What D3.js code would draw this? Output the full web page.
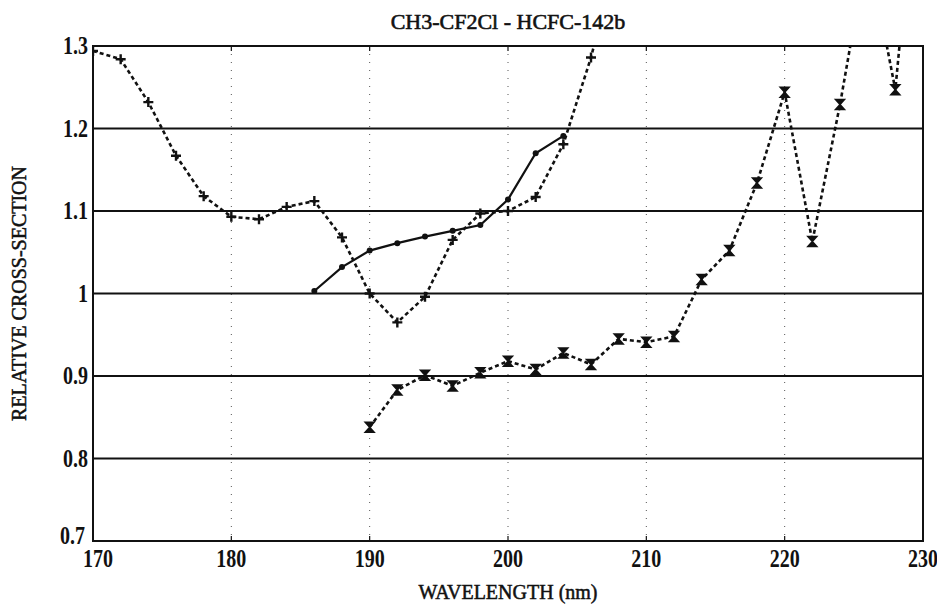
<!DOCTYPE html>
<html lang="en">
<head>
<meta charset="UTF-8">
<title>CH3-CF2Cl - HCFC-142b</title>
<script src="https://d3js.org/d3.v7.min.js"></script>
<style>
    body { margin: 0; background: #fff; }
    .tick-label { font-family: "Liberation Serif", serif; font-weight: bold; font-size: 25px; fill: #111; }
    .title { font-family: "Liberation Serif", serif; font-size: 22px; fill: #111; stroke: #111; stroke-width: 0.6; }
    .axis-title { font-family: "Liberation Serif", serif; font-size: 20px; fill: #111; stroke: #111; stroke-width: 0.5; }
    .series { fill: none; stroke: #111; }
</style>
</head>
<body>
<svg width="937" height="613"></svg>
<script>
    const width = 937;
    const height = 613;
    const margin = { left: 93, right: 14, top: 46, bottom: 72 };

    // wavelengths (nm) and relative cross-section values
    const plusX = [170, 172, 174, 176, 178, 180, 182, 184, 186, 188, 190, 192, 194, 196, 198, 200, 202, 204, 206, 208];
    const plusY = [1.294, 1.284, 1.232, 1.167, 1.118, 1.093, 1.090, 1.105, 1.112, 1.068, 1.000, 0.965, 0.996, 1.065, 1.097, 1.100, 1.117, 1.181, 1.286, 1.42];

    const dotX = [186, 188, 190, 192, 194, 196, 198, 200, 202, 204];
    const dotY = [1.003, 1.032, 1.052, 1.061, 1.069, 1.076, 1.083, 1.114, 1.170, 1.191];

    const crossX = [190, 192, 194, 196, 198, 200, 202, 204, 206, 208, 210, 212, 214, 216, 218, 220, 222, 224, 226, 228, 230];
    const crossY = [0.838, 0.883, 0.901, 0.888, 0.904, 0.918, 0.908, 0.928, 0.914, 0.945, 0.941, 0.948, 1.017, 1.052, 1.134, 1.244, 1.063, 1.229, 1.42, 1.247, 1.6];

    const xTicks = [170, 180, 190, 200, 210, 220, 230];
    const yTicks = [0.7, 0.8, 0.9, 1.0, 1.1, 1.2, 1.3];
    const yTickLabels = ["0.7", "0.8", "0.9", "1", "1.1", "1.2", "1.3"];

    const svg = d3.select("svg")
        .attr("width", width)
        .attr("height", height);

    svg.append("rect").attr("width", width).attr("height", height).attr("fill", "#fff");

    const x = d3.scaleLinear().domain([170, 230]).range([margin.left, width - margin.right]);
    const y = d3.scaleLinear().domain([0.7, 1.3]).range([height - margin.bottom, margin.top]);

    svg.append("defs").append("clipPath").attr("id", "plot")
        .append("rect")
        .attr("x", x(170)).attr("y", y(1.3))
        .attr("width", x(230) - x(170)).attr("height", y(0.7) - y(1.3));

    // vertical dotted grid
    svg.selectAll(".vgrid")
        .data(xTicks.slice(1, -1))
        .enter()
        .append("line")
        .attr("x1", d => x(d)).attr("x2", d => x(d))
        .attr("y1", y(1.3)).attr("y2", y(0.7))
        .attr("stroke", "#555")
        .attr("stroke-width", 1)
        .attr("stroke-dasharray", "1,7");

    // small ticks at top and bottom
    svg.selectAll(".xtick")
        .data(xTicks.slice(1, -1))
        .enter()
        .append("path")
        .attr("d", d => `M${x(d)},${y(1.3)}v5M${x(d)},${y(0.7)}v-5`)
        .attr("stroke", "#111")
        .attr("stroke-width", 1.2);

    // horizontal solid grid
    svg.selectAll(".hgrid")
        .data(yTicks.slice(1, -1))
        .enter()
        .append("line")
        .attr("x1", x(170)).attr("x2", x(230))
        .attr("y1", d => y(d)).attr("y2", d => y(d))
        .attr("stroke", "#111")
        .attr("stroke-width", 1.8);

    // frame
    svg.append("rect")
        .attr("x", x(170)).attr("y", y(1.3))
        .attr("width", x(230) - x(170)).attr("height", y(0.7) - y(1.3))
        .attr("fill", "none")
        .attr("stroke", "#111")
        .attr("stroke-width", 2);

    const plot = svg.append("g").attr("clip-path", "url(#plot)");
    const line = d3.line().x(d => x(d[0])).y(d => y(d[1]));

    const plusData = d3.zip(plusX, plusY);
    const dotData = d3.zip(dotX, dotY);
    const crossData = d3.zip(crossX, crossY);

    plot.append("path").datum(plusData).attr("class", "series")
        .attr("d", line).attr("stroke-width", 2.6).attr("stroke-dasharray", "4,3");
    plot.append("path").datum(dotData).attr("class", "series")
        .attr("d", line).attr("stroke-width", 2.2);
    plot.append("path").datum(crossData).attr("class", "series")
        .attr("d", line).attr("stroke-width", 2.6).attr("stroke-dasharray", "4,3");

    const inside = d => d[1] <= 1.3;

    plot.selectAll(".plus")
        .data(plusData.filter(inside))
        .enter()
        .append("path")
        .attr("transform", d => `translate(${x(d[0])},${y(d[1])})`)
        .attr("d", "M-5,0H5M0,-5V5")
        .attr("stroke", "#111")
        .attr("stroke-width", 2.4);

    plot.selectAll(".dot")
        .data(dotData)
        .enter()
        .append("circle")
        .attr("cx", d => x(d[0]))
        .attr("cy", d => y(d[1]))
        .attr("r", 3)
        .attr("fill", "#111");

    plot.selectAll(".cross")
        .data(crossData.filter(inside))
        .enter()
        .append("path")
        .attr("transform", d => `translate(${x(d[0])},${y(d[1])})`)
        .attr("d", "M-4.5,-5H4.5L-4.5,5H4.5Z")
        .attr("fill", "#111")
        .attr("stroke", "#111")
        .attr("stroke-width", 1.5);

    // tick labels
    svg.selectAll(".xlabel")
        .data(xTicks)
        .enter()
        .append("text")
        .attr("class", "tick-label")
        .attr("transform", d => `translate(${x(d) + (d === 170 ? 5 : 0)},${y(0.7) + 26}) scale(0.8,1)`)
        .attr("text-anchor", "middle")
        .text(d => d);

    svg.selectAll(".ylabel")
        .data(yTicks)
        .enter()
        .append("text")
        .attr("class", "tick-label")
        .attr("transform", d => `translate(${x(170) - (d === 0.7 ? 8 : 5)},${y(d) + (d === 0.7 ? 3 : 8)}) scale(0.8,1)`)
        .attr("text-anchor", "end")
        .text((d, i) => yTickLabels[i]);

    svg.append("text")
        .attr("class", "title")
        .attr("x", (x(170) + x(230)) / 2)
        .attr("y", 29)
        .attr("text-anchor", "middle")
        .text("CH3-CF2Cl - HCFC-142b");

    svg.append("text")
        .attr("class", "axis-title")
        .attr("x", (x(170) + x(230)) / 2)
        .attr("y", 599)
        .attr("text-anchor", "middle")
        .text("WAVELENGTH (nm)");

    svg.append("text")
        .attr("class", "axis-title")
        .attr("transform", `translate(26,${(y(0.7) + y(1.3)) / 2}) rotate(-90)`)
        .attr("text-anchor", "middle")
        .text("RELATIVE CROSS-SECTION");
</script>
</body>
</html>
